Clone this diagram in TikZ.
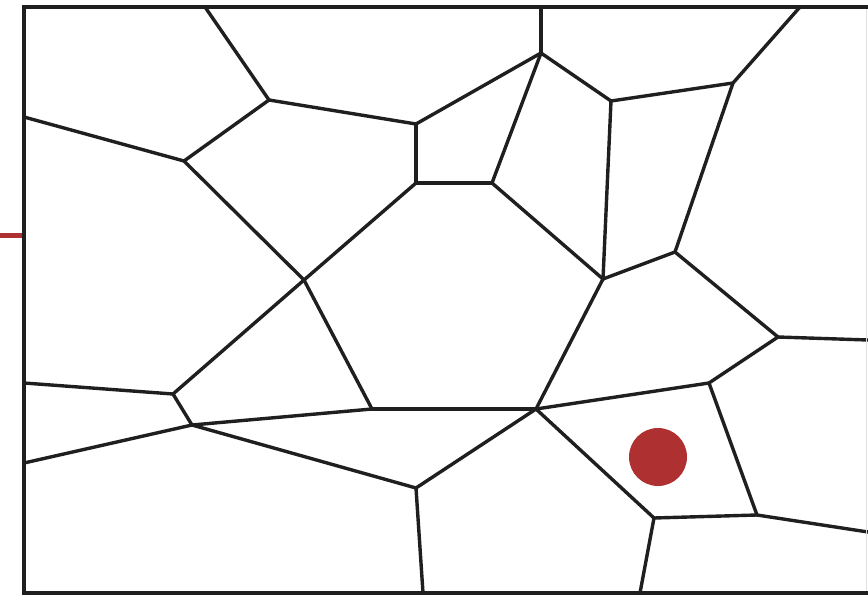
\documentclass[tikz,border=0pt]{standalone}
\definecolor{dotred}{HTML}{AE3030}
\tikzset{edge/.style={line width=3.4pt,draw=black!88,line join=round,line cap=round},
frame/.style={line width=4pt,draw=black!88}}
\begin{document}
\begin{tikzpicture}[x=1pt,y=-1pt]
\useasboundingbox (0,0) rectangle (868,597);
% vertices
\coordinate (A) at (269,100);
\coordinate (B) at (184,161);
\coordinate (C) at (304,280);
\coordinate (D) at (541,53);
\coordinate (E) at (416,124);
\coordinate (F) at (416,183);
\coordinate (G) at (492,183);
\coordinate (H) at (611,101);
\coordinate (I) at (603,279);
\coordinate (J) at (733,83);
\coordinate (K) at (675,252);
\coordinate (L) at (778,337);
\coordinate (M) at (173,394);
\coordinate (N) at (192,425);
\coordinate (O) at (372,409);
\coordinate (P) at (416,488);
\coordinate (Q) at (536,409);
\coordinate (R) at (709,383);
\coordinate (S) at (654,518);
\coordinate (T) at (757,515);
% boundary points
\coordinate (t1) at (205,7);
\coordinate (t2) at (541,7);
\coordinate (t3) at (800,7);
\coordinate (l1) at (24,117);
\coordinate (l2) at (24,383);
\coordinate (l3) at (24,463);
\coordinate (r1) at (868,340);
\coordinate (r2) at (868,532);
\coordinate (b1) at (423,593);
\coordinate (b2) at (640,593);
% edges
\draw[edge] (t1) -- (A);
\draw[edge] (A) -- (E);
\draw[edge] (A) -- (B);
\draw[edge] (l1) -- (B);
\draw[edge] (B) -- (C);
\draw[edge] (E) -- (D);
\draw[edge] (E) -- (F);
\draw[edge] (F) -- (G);
\draw[edge] (G) -- (D);
\draw[edge] (D) -- (t2);
\draw[edge] (D) -- (H);
\draw[edge] (F) -- (C);
\draw[edge] (G) -- (I);
\draw[edge] (H) -- (I);
\draw[edge] (H) -- (J);
\draw[edge] (J) -- (t3);
\draw[edge] (J) -- (K);
\draw[edge] (I) -- (K);
\draw[edge] (K) -- (L);
\draw[edge] (L) -- (r1);
\draw[edge] (L) -- (R);
\draw[edge] (I) -- (Q);
\draw[edge] (C) -- (M);
\draw[edge] (C) -- (O);
\draw[edge] (l2) -- (M);
\draw[edge] (M) -- (N);
\draw[edge] (l3) -- (N);
\draw[edge] (N) -- (O);
\draw[edge] (O) -- (Q);
\draw[edge] (N) -- (P);
\draw[edge] (P) -- (Q);
\draw[edge] (P) -- (b1);
\draw[edge] (Q) -- (R);
\draw[edge] (Q) -- (S);
\draw[edge] (R) -- (T);
\draw[edge] (S) -- (T);
\draw[edge] (T) -- (r2);
\draw[edge] (S) -- (b2);
% frame
\coordinate (c1) at (24,593);
\coordinate (c2) at (24,7);
\coordinate (c3) at (868,7);
\coordinate (c4) at (868,593);
\draw[frame] (c3) -- (c2) -- (c1) -- (c4);
\draw[line width=1pt,draw=black!12] (866,9) -- (866,591);
% red marker
\coordinate (m0) at (0,235.5);
\coordinate (m1) at (22,235.5);
\draw[dotred,line width=4.5pt] (m0) -- (m1);
\node[circle,fill=dotred,minimum size=58pt,inner sep=0pt] (dot) at (658,457) {};
\end{tikzpicture}
\end{document}
